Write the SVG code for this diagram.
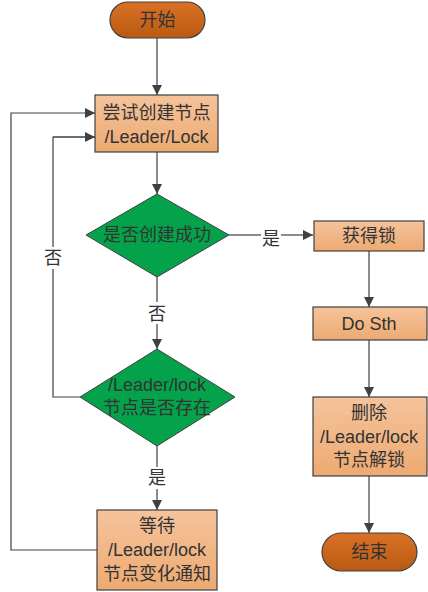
<svg xmlns="http://www.w3.org/2000/svg" width="428" height="592" viewBox="0 0 428 592">
<style>
.t{font-family:"Liberation Sans","Noto Sans CJK SC",sans-serif;font-size:18px;fill:#333;text-anchor:middle;dominant-baseline:central}
.l{font-family:"Liberation Sans","Noto Sans CJK SC",sans-serif;font-size:18px;fill:#333;text-anchor:middle;dominant-baseline:central}
.rect{fill:url(#gr);stroke:#404040;stroke-width:1.2}
.term{fill:url(#go);stroke:#404040;stroke-width:1.2}
.dia{fill:#04A24A;stroke:#404040;stroke-width:1}
.c{fill:none;stroke:#404040;stroke-width:1.2}
</style>
<defs>
<linearGradient id="gr" x1="0" y1="0" x2="0" y2="1"><stop offset="0" stop-color="#F5C39B"/><stop offset="1" stop-color="#EDAA72"/></linearGradient>
<linearGradient id="go" x1="0" y1="0" x2="0" y2="1"><stop offset="0" stop-color="#DA7125"/><stop offset="1" stop-color="#B95A12"/></linearGradient>
<marker id="a" viewBox="0 0 10 10" refX="10" refY="5" markerWidth="10" markerHeight="10" markerUnits="userSpaceOnUse" orient="auto"><path d="M0,0 L10,5 L0,10 z" fill="#404040"/></marker>
</defs>
<g id="connectors">
<path class="c" d="M157,38 V95" marker-end="url(#a)"/>
<path class="c" d="M157,152 V194" marker-end="url(#a)"/>
<path class="c" d="M229,235 H261" />
<path class="c" d="M281,235 H313" marker-end="url(#a)"/>
<path class="c" d="M157,277 V302" />
<path class="c" d="M157,324 V349" marker-end="url(#a)"/>
<path class="c" d="M80,397 H53 V269 M53,247 V137 H95" />
<path class="c" d="M53,137 H95" marker-end="url(#a)"/>
<path class="c" d="M157,446 V467" />
<path class="c" d="M157,489 V510" marker-end="url(#a)"/>
<path class="c" d="M97,550 H11 V113 H95" marker-end="url(#a)"/>
<path class="c" d="M369,251 V307" marker-end="url(#a)"/>
<path class="c" d="M369,340 V397" marker-end="url(#a)"/>
<path class="c" d="M369,476 V533" marker-end="url(#a)"/>
<text class="l" x="271" y="239">是</text>
<text class="l" x="157" y="314">否</text>
<text class="l" x="53" y="258">否</text>
<text class="l" x="157" y="478">是</text>
</g>
<g id="start">
<rect class="term" x="110" y="2" width="95" height="36" rx="18"/>
<text class="t" x="157.5" y="20">开始</text>
</g>
<g id="try">
<rect class="rect" x="95" y="95" width="123" height="57"/>
<text class="t" x="156.5" y="113">尝试创建节点</text>
<text class="t" x="156.5" y="137">/Leader/Lock</text>
</g>
<g id="check">
<polygon class="dia" points="157,194 229,235 157,277 86,235"/>
<text class="t" x="157" y="235">是否创建成功</text>
</g>
<g id="exists">
<polygon class="dia" points="157,349 235,397 157,446 80,397"/>
<text class="t" x="157" y="385">/Leader/lock</text>
<text class="t" x="157" y="408">节点是否存在</text>
</g>
<g id="wait">
<rect class="rect" x="97" y="510" width="120" height="80"/>
<text class="t" x="157" y="526">等待</text>
<text class="t" x="157" y="550">/Leader/lock</text>
<text class="t" x="157" y="574">节点变化通知</text>
</g>
<g id="lock">
<rect class="rect" x="314" y="221" width="110" height="30"/>
<text class="t" x="369" y="236">获得锁</text>
</g>
<g id="dosth">
<rect class="rect" x="313" y="307" width="114" height="33"/>
<text class="t" x="369" y="323.5">Do Sth</text>
</g>
<g id="delete">
<rect class="rect" x="313" y="397" width="114" height="79"/>
<text class="t" x="369" y="413">删除</text>
<text class="t" x="369" y="437">/Leader/lock</text>
<text class="t" x="369" y="460">节点解锁</text>
</g>
<g id="end">
<rect class="term" x="322" y="533" width="95" height="38" rx="19"/>
<text class="t" x="369.5" y="552">结束</text>
</g>
</svg>
